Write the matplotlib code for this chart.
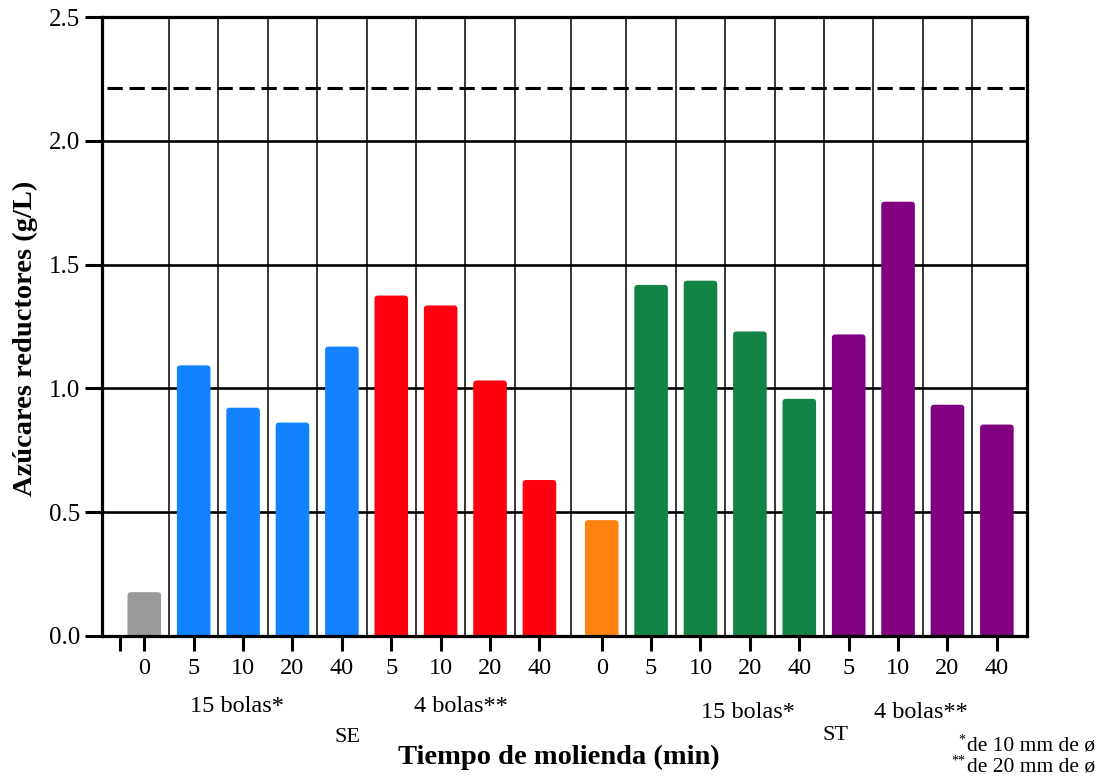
import numpy as np
import matplotlib
matplotlib.use("Agg")
import matplotlib.pyplot as plt
from matplotlib.patches import FancyBboxPatch

plt.rcParams['font.family'] = ['Liberation Serif', 'DejaVu Serif']

# grinding times (min) for each bar, SE block then ST block
tiempos_se = ['0', '5', '10', '20', '40', '5', '10', '20', '40']
tiempos_st = ['0', '5', '10', '20', '40', '5', '10', '20', '40']

# reducing sugars (g/L)
azucares_se = [0.177, 1.093, 0.922, 0.862, 1.169, 1.375, 1.335, 1.032, 0.630]
azucares_st = [0.468, 1.418, 1.435, 1.230, 0.958, 1.218, 1.754, 0.934, 0.854]

colores_se = ['#9a9a9a'] + ['#1282fe'] * 4 + ['#fe0010'] * 4
colores_st = ['#fe8210'] + ['#138345'] * 4 + ['#800080'] * 4

referencia = 2.215  # dashed reference level
gap = 0.26

x_se = np.arange(len(azucares_se))
x_st = np.arange(len(azucares_st)) + len(azucares_se) + gap
x = np.concatenate([x_se, x_st])
y = azucares_se + azucares_st
colores = colores_se + colores_st
etiquetas = tiempos_se + tiempos_st

fig = plt.figure(figsize=(11.02, 7.77), dpi=100)
ax = fig.add_axes([102 / 1102, 1 - 636 / 777, 925 / 1102, 619 / 777])

ax.set_xlim(-0.856, 17.87)
ax.set_ylim(0, 2.5)

# grid: horizontal at every major y tick, vertical between bars
for yy in [0.5, 1.0, 1.5, 2.0, 2.5]:
    ax.axhline(yy, color='black', lw=1.9, zorder=1)
mids = (x[:-1] + x[1:]) / 2
ax.vlines(mids, 0, 2.5, color='black', lw=1.1, zorder=1)

bars = ax.bar(x, y, width=0.68, color=colores, zorder=3)

# swap the plain rectangles for ones with slightly rounded corners
aspect = (2.5 / 619) / (1 / 49.4)
for b in bars:
    bx, by = b.get_xy()
    rb = FancyBboxPatch((bx, by - 0.02), b.get_width(), b.get_height() + 0.02,
                        boxstyle="round,pad=0,rounding_size=0.07",
                        mutation_aspect=aspect, facecolor=b.get_facecolor(),
                        edgecolor='none', zorder=3)
    b.set_visible(False)
    ax.add_patch(rb)

ax.hlines(referencia, -0.75, 17.87, colors='black', lw=2.2,
          linestyles=(0, (5, 2.2)), zorder=2)

for s in ax.spines.values():
    s.set_linewidth(2.3)
    s.set_zorder(4)

ax.set_yticks([0, 0.5, 1.0, 1.5, 2.0, 2.5])
ax.set_yticklabels(['0.0', '0.5', '1.0', '1.5', '2.0', '2.5'], fontsize=18)
ax.set_xticks(x)
ax.set_xticklabels(etiquetas, fontsize=17.5)
ax.set_xticks([-0.5], minor=True)
ax.tick_params(axis='both', which='both', direction='out', width=2.2)
ax.tick_params(axis='y', length=12, pad=4)
ax.tick_params(axis='x', which='both', length=11, pad=5)

W, H = 1102, 777

def ftext(px, py, s, **kw):
    fig.text(px / W, 1 - py / H, s, **kw)

ftext(25, 338, 'Azúcares reductores (g/L)', rotation=90, ha='center',
      va='center', fontsize=20.5, fontweight='bold')
ftext(559, 757, 'Tiempo de molienda (min)', ha='center', va='center',
      fontsize=20.5, fontweight='bold')

ftext(237, 707, '15 bolas*', ha='center', va='center', fontsize=17.5)
ftext(461, 707, '4 bolas**', ha='center', va='center', fontsize=17.5)
ftext(347, 737, 'SE', ha='center', va='center', fontsize=16)
ftext(748, 712, '15 bolas*', ha='center', va='center', fontsize=17.5)
ftext(921, 712, '4 bolas**', ha='center', va='center', fontsize=17.5)
ftext(836, 736, 'ST', ha='center', va='center', fontsize=16)

ftext(965, 740, '*', ha='right', va='center', fontsize=10)
ftext(967, 746, 'de 10 mm de ø', ha='left', va='center', fontsize=15.5)
ftext(965, 761, '**', ha='right', va='center', fontsize=10)
ftext(967, 767, 'de 20 mm de ø', ha='left', va='center', fontsize=15.5)

fig.savefig('out.png', dpi=100)
